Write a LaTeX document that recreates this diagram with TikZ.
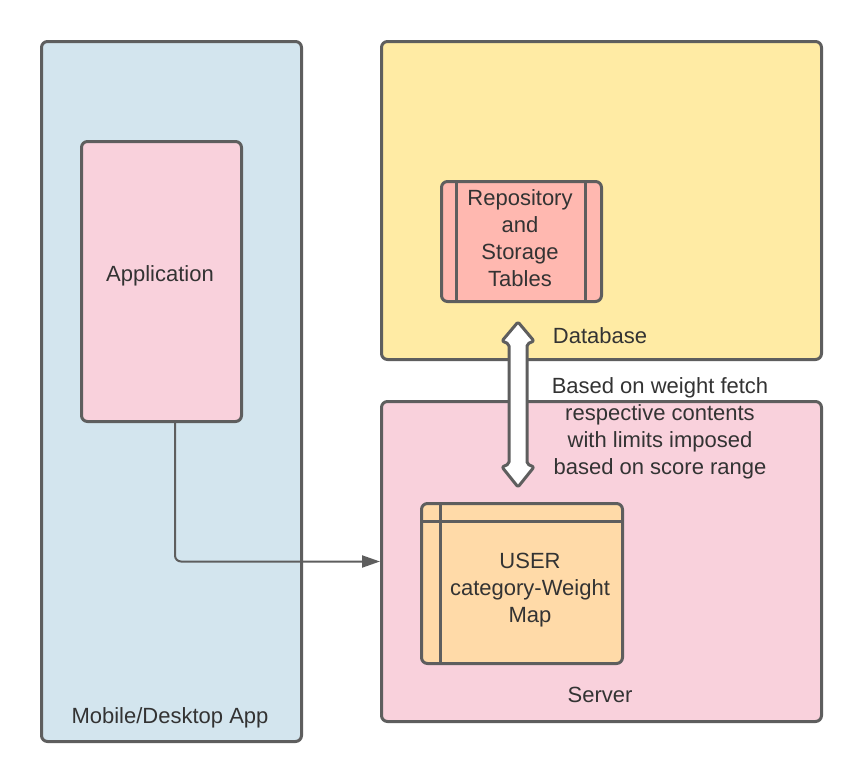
\documentclass[tikz,border=0pt]{standalone}
\usepackage{fontspec}
\setmainfont{Liberation Sans}
\usetikzlibrary{arrows.meta}
\definecolor{strokec}{HTML}{5E5E5E}
\definecolor{textc}{HTML}{333333}
\definecolor{bluef}{HTML}{D3E5EE}
\definecolor{pinkf}{HTML}{F9D1DC}
\definecolor{yellowf}{HTML}{FFEBA4}
\definecolor{salmonf}{HTML}{FFB8B0}
\definecolor{orangef}{HTML}{FFDAA8}
\tikzset{
  box/.style={draw=strokec, line width=3pt, rounded corners=6pt, inner sep=0pt, anchor=north west},
  lbl/.style={text=textc, font=\fontsize{22}{27}\selectfont, align=center, inner sep=0pt},
  inner/.style={draw=strokec, line width=3pt},
  conn/.style={draw=strokec, line width=2pt, rounded corners=6pt, -{Triangle[length=18pt,width=12pt]}},
}
\begin{document}
\begin{tikzpicture}[x=1pt,y=-1pt]
\useasboundingbox[fill=white] (0,0) rectangle (860,780);
% containers
\node[box, fill=bluef, minimum width=260pt, minimum height=700pt] (mob) at (40,40) {};
\node[box, fill=yellowf, minimum width=440pt, minimum height=318pt] (db) at (380,40) {};
\node[box, fill=pinkf, minimum width=440pt, minimum height=320pt] (srv) at (380,400) {};
% application
\node[box, fill=pinkf, minimum width=160pt, minimum height=280pt] (app) at (80,140) {};
\node[lbl] (applbl) at (160,276) {Application};
% repository
\node[box, fill=salmonf, minimum width=160pt, minimum height=120pt] (repo) at (440,180) {};
\draw[inner] (456,180) -- (456,300);
\draw[inner] (585,180) -- (585,300);
\node[lbl] (repolbl) at (520,238) {Repository\\and\\Storage\\Tables};
% user map
\node[box, fill=orangef, minimum width=201pt, minimum height=160pt] (map) at (420,502) {};
\draw[inner] (440,502) -- (440,662);
\draw[inner] (420,521) -- (621,521);
\node[lbl] (maplbl) at (530,590) {USER\\category-Weight\\Map};
% labels
\node[lbl] (dblbl) at (600,336) {Database};
\node[lbl] (srvlbl) at (600,695) {Server};
\node[lbl] (moblbl) at (170,718) {Mobile/Desktop App};
\node[lbl] (note) at (660,428) {Based on weight fetch\\respective contents\\with limits imposed\\based on score range};
% double arrow
\draw[draw=strokec, fill=white, line width=3pt, line join=round, rounded corners=2pt]
  (518,322) -- (502,341) -- (509,344) -- (509,464) -- (502,467) -- (518,487)
  -- (534,467) -- (527,464) -- (527,344) -- (534,341) -- cycle;
% connector
\coordinate (bend) at (175,559);
\draw[conn] (app.south -| bend) |- (srv.west);
\end{tikzpicture}
\end{document}
